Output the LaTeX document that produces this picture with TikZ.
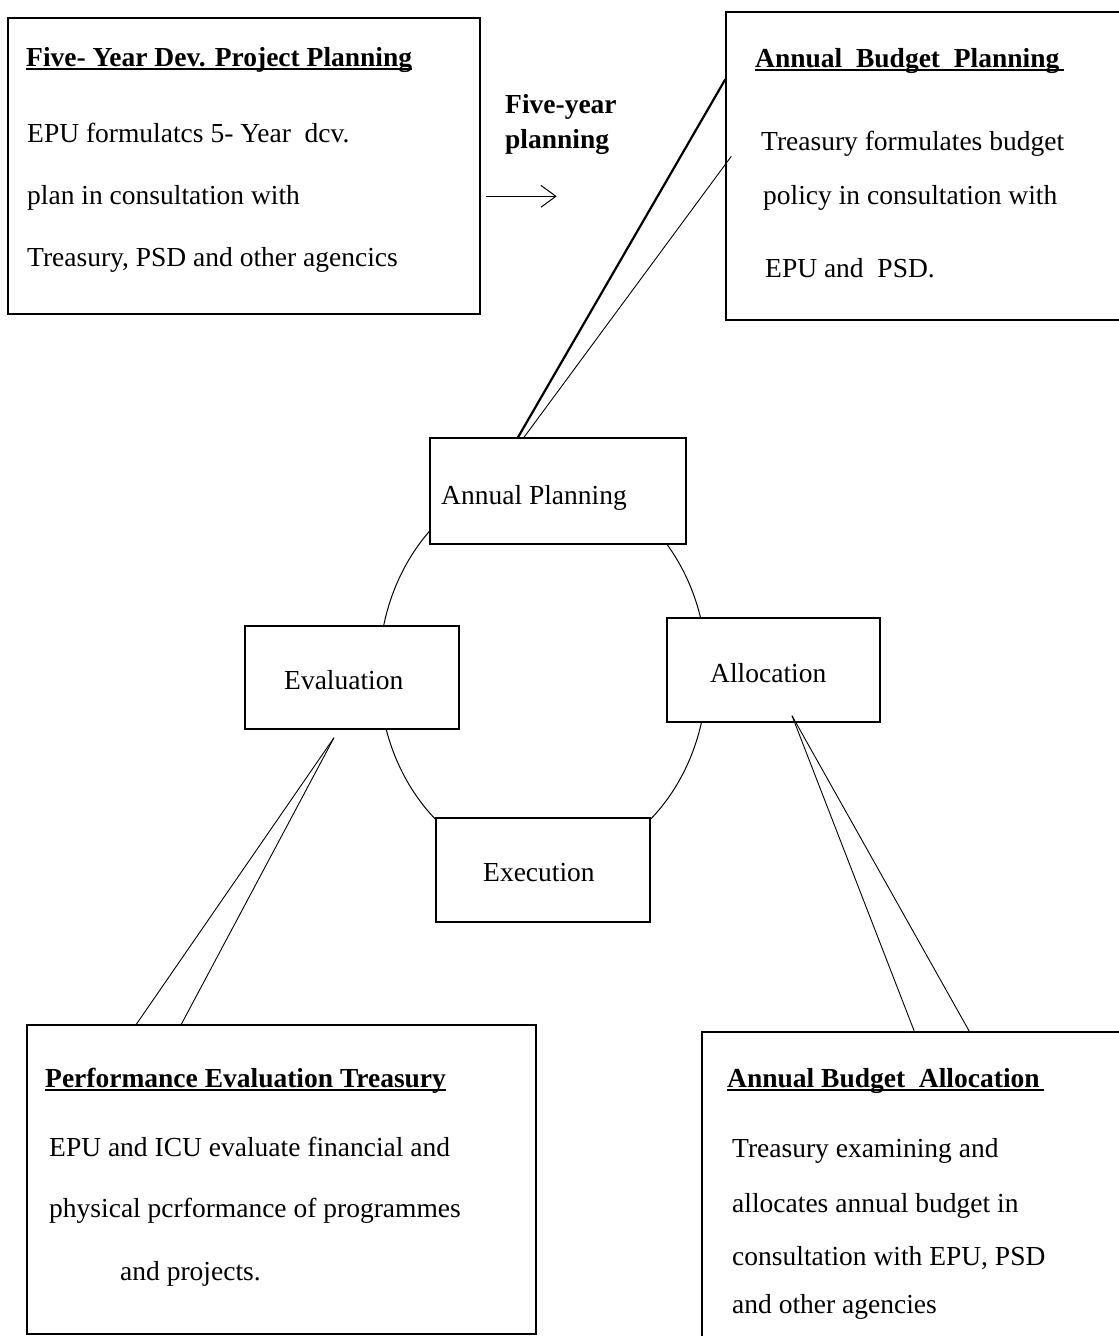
\documentclass[tikz,border=0pt]{standalone}
\usepackage{fontspec}
\setmainfont{Liberation Serif}
\usetikzlibrary{arrows.meta,calc}

% underlined heading: the rule runs through the descenders, with an optional tail
\newcommand\ulined[2][0pt]{\setbox0\hbox{#2}\rlap{\rule[-4.2pt]{\dimexpr\wd0+#1\relax}{1.8pt}}\box0}

\begin{document}
\begin{tikzpicture}[x=1pt,y=-1pt,
  box/.style={draw, line width=1.4pt, fill=white, inner sep=0pt},
  txt/.style={anchor=base west, inner sep=0pt, font=\fontsize{27.5}{33}\selectfont},
  hd/.style={anchor=base west, inner sep=0pt, font=\fontsize{27.5}{33}\selectfont\bfseries},
  callout/.style={line width=0.9pt},
  heavy/.style={line width=2.2pt},
  arr/.style={line width=1pt, -{Straight Barb[length=15pt,width=22pt,line width=1pt]}}]

\useasboundingbox (0,0) rectangle (1119,1336);

% the budget cycle ring
\draw[line width=1pt] (543,672) ellipse [x radius=164pt, y radius=195pt];

% outer boxes
\node[box, minimum width=472pt, minimum height=296pt] (fyp) at (244,166) {};
\node[box, minimum width=404pt, minimum height=308pt] (abp) at (928,166) {};
\node[box, minimum width=509pt, minimum height=309pt] (pe)  at (281.5,1179.5) {};
\node[box, minimum width=428pt, minimum height=318pt] (aba) at (916,1191) {};

% cycle stages
\node[box, minimum width=256pt, minimum height=106pt] (ap) at (558,491) {};
\node[box, minimum width=214pt, minimum height=103pt] (ev) at (352,677.5) {};
\node[box, minimum width=213pt, minimum height=104pt] (al) at (773.5,670) {};
\node[box, minimum width=214pt, minimum height=104pt] (ex) at (543,870) {};

\node[txt] (apt) at (441,504) {Annual Planning};
\node[txt] (evt) at (284,689) {Evaluation};
\node[txt] (alt) at (710,682) {Allocation};
\node[txt] (ext) at (483,881) {Execution};

% five-year development planning
\node[hd]  (fyph) at (26,66)  {\ulined{Five- Year Dev. Project Planning}};
\node[txt] (fyp1) at (27,142) {EPU formulatcs 5- Year\ \ dcv.};
\node[txt] (fyp2) at (27,204) {plan in consultation with};
\node[txt] (fyp3) at (27,266) {Treasury, PSD and other agencics};

% five-year planning arrow
\node[hd] (fyl1) at (505,113) {Five-year};
\node[hd] (fyl2) at (505,148) {planning};
\coordinate (arrs) at ($(fyp.north east)+(5,179)$);
\coordinate (arre) at ($(fyp.north east)+(76,179)$);
\draw[arr] (arrs) -- (arre);

% annual budget planning
\node[hd]  (abph) at (755,67)  {\ulined[5pt]{Annual\ \ Budget\ \ Planning}};
\node[txt] (abp1) at (761,150) {Treasury formulates budget};
\node[txt] (abp2) at (763,204) {policy in consultation with};
\node[txt] (abp3) at (765,277) {EPU and\ \ PSD.};

% performance evaluation
\node[hd]  (peh) at (45,1087)  {\ulined{Performance Evaluation Treasury}};
\node[txt] (pe1) at (49,1156)  {EPU and ICU evaluate financial and};
\node[txt] (pe2) at (49,1217)  {physical pcrformance of programmes};
\node[txt] (pe3) at (120,1280) {and projects.};

% annual budget allocation
\node[hd]  (abah) at (727,1087) {\ulined[4pt]{Annual Budget\ \ Allocation}};
\node[txt] (aba1) at (732,1157) {Treasury examining and};
\node[txt] (aba2) at (732,1212) {allocates annual budget in};
\node[txt] (aba3) at (732,1265) {consultation with EPU, PSD};
\node[txt] (aba4) at (732,1313) {and other agencies};

% callout wedges
\draw[heavy]   ($(ap.north)+(-40,0)$) -- ($(abp.north west)+(0,68)$);
\draw[callout] ($(ap.north)+(-34,0)$) -- ($(abp.north west)+(6,145)$);

\coordinate (evtip) at ($(ev.south)+(-18,8)$);
\draw[callout] (evtip) -- ($(pe.north west)+(110,0)$);
\draw[callout] (evtip) -- ($(pe.north west)+(155,0)$);

\coordinate (altip) at ($(al.south)+(18.5,-7)$);
\draw[callout] (altip) -- ($(aba.north west)+(213,0)$);
\draw[callout] (altip) -- ($(aba.north west)+(268,0)$);
\end{tikzpicture}
\end{document}
